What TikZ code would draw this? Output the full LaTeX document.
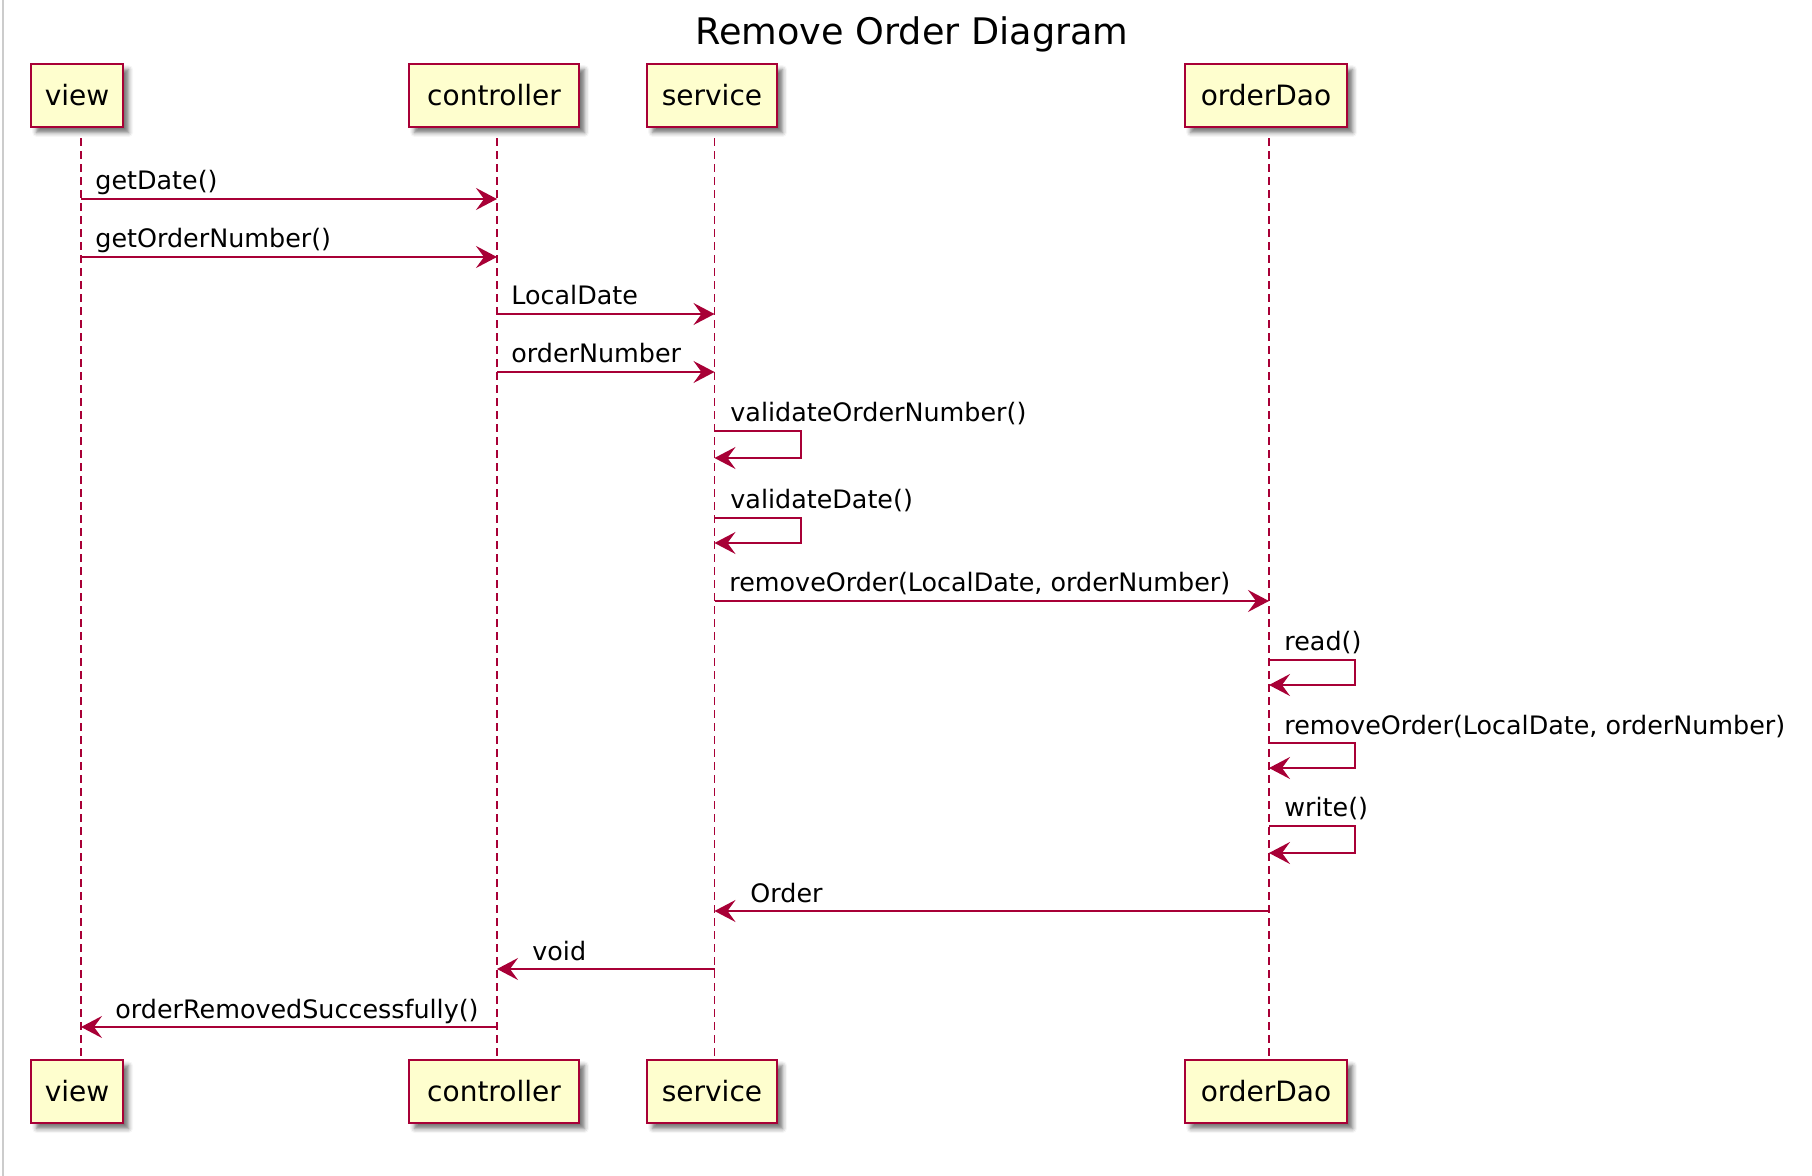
\documentclass[tikz,border=0pt]{standalone}
\usepackage{fontspec}
\setmainfont{DejaVu Sans}
\usetikzlibrary{arrows.meta,shadows.blur}
\definecolor{pumlred}{HTML}{A80036}
\definecolor{pumlfill}{HTML}{FEFECE}
\definecolor{framegray}{HTML}{CCCCCC}
\tikzset{
  actor/.style={draw=pumlred, fill=pumlfill, line width=1.4pt, minimum height=31.5pt,
    inner sep=0pt, font=\fontsize{14}{16}\selectfont,
    blur shadow={shadow xshift=2.8pt, shadow yshift=-2.8pt, shadow blur radius=2.2pt, shadow opacity=55}},
  life/.style={draw=pumlred, line width=0.9pt, dash pattern=on 4pt off 2.5pt},
  msg/.style={draw=pumlred, line width=0.9pt, -{Stealth[length=10.5pt,width=11pt,inset=4pt]}},
  lbl/.style={anchor=base west, inner sep=0pt, font=\fontsize{12.7}{15}\selectfont},
}
\begin{document}
\begin{tikzpicture}[x=0.5pt,y=-0.5pt]
\useasboundingbox (0,0) rectangle (1812,1176);
\draw[framegray, line width=1pt] (3,0) -- (3,1176);

\node[anchor=base, inner sep=0pt, font=\fontsize{18.3}{22}\selectfont] (title) at (912,45) {Remove Order Diagram};

% lifeline x positions
\coordinate (vx) at (81,0);
\coordinate (cx) at (497,0);
\coordinate (sx) at (714.5,0);
\coordinate (dx) at (1269,0);

% participants top
\node[actor, minimum width=46pt] (vT) at (77,95.5) {view};
\node[actor, minimum width=85pt] (cT) at (494,95.5) {controller};
\node[actor, minimum width=65pt] (sT) at (712,95.5) {service};
\node[actor, minimum width=81pt] (dT) at (1266,95.5) {orderDao};
% participants bottom
\node[actor, minimum width=46pt] (vB) at (77,1091.5) {view};
\node[actor, minimum width=85pt] (cB) at (494,1091.5) {controller};
\node[actor, minimum width=65pt] (sB) at (712,1091.5) {service};
\node[actor, minimum width=81pt] (dB) at (1266,1091.5) {orderDao};

% lifelines
\draw[life] ([yshift=-5pt]vx |- vT.south) -- (vx |- vB.north);
\draw[life] ([yshift=-5pt]cx |- vT.south) -- (cx |- cB.north);
\draw[life] ([yshift=-5pt]sx |- vT.south) -- (sx |- sB.north);
\draw[life] ([yshift=-5pt]dx |- vT.south) -- (dx |- dB.north);

% messages
\draw[msg] (vx |- 0,199) -- (cx |- 0,199);
\node[lbl] (m1) at (95,190) {getDate()};
\draw[msg] (vx |- 0,257) -- (cx |- 0,257);
\node[lbl] (m2) at (95,248) {getOrderNumber()};
\draw[msg] (cx |- 0,314) -- (sx |- 0,314);
\node[lbl] (m3) at (511,305) {LocalDate};
\draw[msg] (cx |- 0,372) -- (sx |- 0,372);
\node[lbl] (m4) at (511,363) {orderNumber};

\draw[msg] (sx |- 0,431) -- (801,431) -- (801,458) -- (sx |- 0,458);
\node[lbl] (m5) at (730,422) {validateOrderNumber()};
\draw[msg] (sx |- 0,518) -- (801,518) -- (801,543) -- (sx |- 0,543);
\node[lbl] (m6) at (730,509) {validateDate()};

\draw[msg] (sx |- 0,601) -- (dx |- 0,601);
\node[lbl] (m7) at (729,592) {removeOrder(LocalDate, orderNumber)};

\draw[msg] (dx |- 0,660) -- (1355,660) -- (1355,685) -- (dx |- 0,685);
\node[lbl] (m8) at (1284,651) {read()};
\draw[msg] (dx |- 0,743) -- (1355,743) -- (1355,768) -- (dx |- 0,768);
\node[lbl] (m9) at (1284,734) {removeOrder(LocalDate, orderNumber)};
\draw[msg] (dx |- 0,826) -- (1355,826) -- (1355,853) -- (dx |- 0,853);
\node[lbl] (m10) at (1284,817) {write()};

\draw[msg] (dx |- 0,911) -- (sx |- 0,911);
\node[lbl] (m11) at (750,902) {Order};
\draw[msg] (sx |- 0,969) -- (cx |- 0,969);
\node[lbl] (m12) at (532,960) {void};
\draw[msg] (cx |- 0,1027) -- (vx |- 0,1027);
\node[lbl] (m13) at (115,1018) {orderRemovedSuccessfully()};
\end{tikzpicture}
\end{document}
